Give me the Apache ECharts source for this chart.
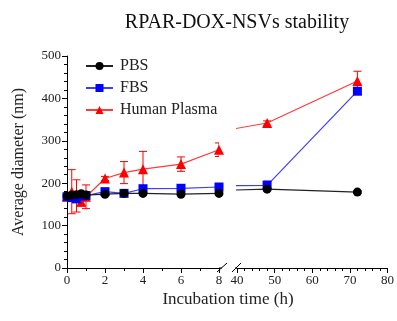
<!DOCTYPE html>
<html>
<head>
<meta charset="utf-8">
<script src="https://cdn.jsdelivr.net/npm/echarts@6/dist/echarts.min.js"></script>
<style>
html,body{margin:0;padding:0;background:#fff;}
#c{width:397px;height:321px;}
</style>
</head>
<body>
<div id="c"></div>
<script>
const times = [0, 0.25, 0.5, 0.75, 1, 2, 3, 4, 6, 8, 48, 72];
const pbs = [170, 172, 173, 175, 172, 174, 176, 176, 174, 176, 186, 179];
const pbsErr = [4, 4, 4, 4, 4, 3, 3, 3, 3, 3, 4, 3];
const fbs = [168, 166, 163, 170, 171, 180, 176, 187, 188, 191, 195, 417];
const fbsErr = [5, 5, 5, 5, 5, 4, 4, 4, 4, 4, 10, 8];
const plasma = [168, 180, 170, 156, 168, 211, 225, 233, 245, 279, 342, 441];
const plasmaErr = [5, 52, 38, 10, 28, 5, 26, 42, 17, 16, 5, 23];
const yTicks = [0, 100, 200, 300, 400, 500];
const leftTicks = [0, 2, 4, 6, 8];
const rightTicks = [40, 50, 60, 70, 80];

const FONT = '"Liberation Serif", "Times New Roman", serif';
const chart = echarts.init(document.getElementById('c'));

const seriesDefs = [
  {name: 'Human Plasma', vals: plasma, err: plasmaErr, symbol: 'triangle', size: 10, color: '#ff0000', line: '#ff3b3b', z: 2},
  {name: 'FBS', vals: fbs, err: fbsErr, symbol: 'rect', size: 9, color: '#0000ff', line: '#3d3dff', z: 3},
  {name: 'PBS', vals: pbs, err: pbsErr, symbol: 'circle', size: 9, color: '#000000', line: '#222222', z: 4}
];
const ranges = [[0, 8], [40, 80]];

function errRender(color) {
  return function (params, api) {
    const x = api.value(0);
    const lo = api.coord([x, api.value(1)]);
    const hi = api.coord([x, api.value(2)]);
    const w = 4;
    const st = {stroke: color, lineWidth: 1};
    return {
      type: 'group',
      children: [
        {type: 'line', shape: {x1: lo[0], y1: lo[1], x2: hi[0], y2: hi[1]}, style: st},
        {type: 'line', shape: {x1: lo[0] - w, y1: lo[1], x2: lo[0] + w, y2: lo[1]}, style: st},
        {type: 'line', shape: {x1: hi[0] - w, y1: hi[1], x2: hi[0] + w, y2: hi[1]}, style: st}
      ]
    };
  };
}

const series = [];
seriesDefs.forEach(d => {
  [0, 1].forEach(g => {
    const errData = [];
    times.forEach((t, i) => {
      if (t >= ranges[g][0] && t <= ranges[g][1]) errData.push([t, d.vals[i] - d.err[i], d.vals[i] + d.err[i]]);
    });
    series.push({
      name: d.name + ' error', type: 'custom', xAxisIndex: g, yAxisIndex: g,
      renderItem: errRender(d.color), data: errData, z: d.z, clip: true,
      itemStyle: {color: d.color}, silent: true
    });
    series.push({
      name: d.name, type: 'line', xAxisIndex: g, yAxisIndex: g,
      data: times.map((t, i) => [t, d.vals[i]]),
      symbol: d.symbol, symbolSize: d.size, showAllSymbol: true,
      itemStyle: {color: d.color},
      lineStyle: {color: d.line, width: 1.2},
      clip: true, z: d.z + 1, animation: false
    });
  });
});

const axisCommon = {
  axisLine: {lineStyle: {color: '#000', width: 1}},
  axisTick: {inside: false, length: 5, lineStyle: {color: '#000'}},
  minorTick: {show: true, length: 3, lineStyle: {color: '#000'}},
  splitLine: {show: false},
  axisLabel: {fontFamily: FONT, fontSize: 13, color: '#222', margin: 6}
};

chart.setOption({
  animation: false,
  backgroundColor: '#fff',
  title: {
    text: 'RPAR-DOX-NSVs stability', left: 232, top: 8, textAlign: 'center',
    textStyle: {fontFamily: FONT, fontSize: 20, fontWeight: 'normal', color: '#111'}
  },
  legend: {
    data: ['PBS', 'FBS', 'Human Plasma'],
    orient: 'vertical', left: 80, top: 53, itemWidth: 27, itemHeight: 10, itemGap: 6,
    textStyle: {fontFamily: FONT, fontSize: 16, color: '#222', padding: [0, 0, 0, 2]}
  },
  grid: [
    {left: 67, top: 56, width: 152, bottom: 53},
    {left: 237, top: 56, width: 152, bottom: 53}
  ],
  xAxis: [
    Object.assign({}, axisCommon, {gridIndex: 0, type: 'value', min: 0, max: 8, interval: 2,
      minorTick: Object.assign({}, axisCommon.minorTick, {splitNumber: 2})}),
    Object.assign({}, axisCommon, {gridIndex: 1, type: 'value', min: 40, max: 80, interval: 10,
      minorTick: Object.assign({}, axisCommon.minorTick, {splitNumber: 5})})
  ],
  yAxis: [
    Object.assign({}, axisCommon, {gridIndex: 0, type: 'value', min: 0, max: 500, interval: 100,
      minorTick: Object.assign({}, axisCommon.minorTick, {splitNumber: 5}),
      name: 'Average diameter (nm)', nameLocation: 'middle', nameGap: 40,
      nameTextStyle: {fontFamily: FONT, fontSize: 16, color: '#222'}}),
    {gridIndex: 1, type: 'value', min: 0, max: 500, interval: 100, show: false, splitLine: {show: false}}
  ],
  graphic: [
    {type: 'line', shape: {x1: 219, y1: 268, x2: 222, y2: 268}, style: {stroke: '#000', lineWidth: 1}},
    {type: 'line', shape: {x1: 217, y1: 272, x2: 227, y2: 263}, style: {stroke: '#000', lineWidth: 1}},
    {type: 'line', shape: {x1: 232, y1: 272, x2: 241, y2: 263}, style: {stroke: '#000', lineWidth: 1}},
    {type: 'line', shape: {x1: 235, y1: 268, x2: 237, y2: 268}, style: {stroke: '#000', lineWidth: 1}},
    {type: 'text', x: 228, y: 300,
      style: {text: 'Incubation time (h)', font: '17px ' + FONT, fill: '#222', align: 'center', verticalAlign: 'middle'}}
  ],
  series: series
});
</script>
</body>
</html>
